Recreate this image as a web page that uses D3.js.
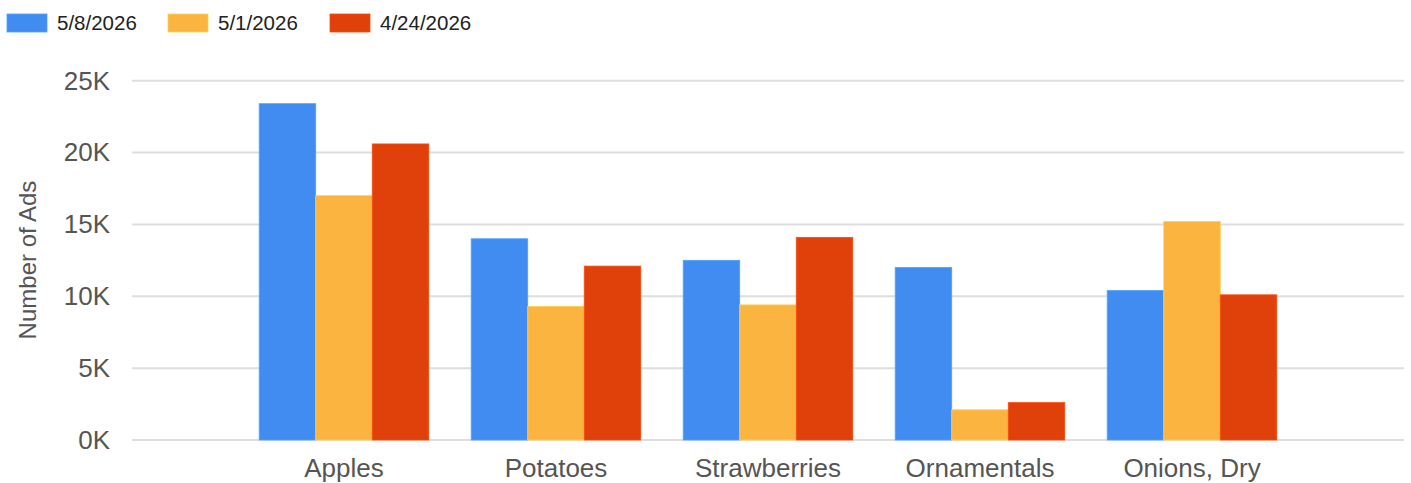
<!DOCTYPE html>
<html>
<head>
<meta charset="utf-8">
<script src="https://cdn.jsdelivr.net/npm/d3@7"></script>
<style>
  html, body { margin: 0; padding: 0; background: #fff; }
  svg { display: block; font-family: Arial, "Liberation Sans", sans-serif; }
</style>
</head>
<body>
<svg id="chart" width="1411" height="483"></svg>
<script>
const categories = ["Apples", "Potatoes", "Strawberries", "Ornamentals", "Onions, Dry"];
const seriesNames = ["5/8/2026", "5/1/2026", "4/24/2026"];
const seriesColors = ["#418cf0", "#fcb441", "#e0400a"];
const values_5_8 = [23400, 14000, 12500, 12000, 10400];
const values_5_1 = [17000, 9300, 9400, 2100, 15200];
const values_4_24 = [20600, 12100, 14100, 2600, 10100];
const yTicks = [0, 5000, 10000, 15000, 20000, 25000];
const yTickLabels = ["0K", "5K", "10K", "15K", "20K", "25K"];
const yTitle = "Number of Ads";

const seriesValues = [values_5_8, values_5_1, values_4_24];

const svg = d3.select("#chart");
const plotLeft = 132, plotRight = 1404, plotTop = 80.7, plotBottom = 440;

const x0 = d3.scaleBand().domain(categories).range([plotLeft, plotRight]).paddingInner(0.2).paddingOuter(0.6);
const x1 = d3.scaleBand().domain(seriesNames).range([0, x0.bandwidth()]).padding(0);
const y = d3.scaleLinear().domain([0, 25000]).range([plotBottom, plotTop]);

// gridlines
svg.append("g").selectAll("line").data(yTicks).join("line")
  .attr("x1", plotLeft).attr("x2", plotRight)
  .attr("y1", d => y(d)).attr("y2", d => y(d))
  .attr("stroke", "#dedede").attr("stroke-width", 2);

// y axis labels
const yAxis = d3.axisLeft(y).tickValues(yTicks).tickSize(0).tickPadding(0)
  .tickFormat((d, i) => yTickLabels[i]);
const yg = svg.append("g").attr("transform", `translate(110,0)`).call(yAxis);
yg.select(".domain").remove();
yg.selectAll("text").attr("font-size", 26).attr("fill", "#555").attr("font-family", "Arial, 'Liberation Sans', sans-serif");

// y title
svg.append("text")
  .attr("transform", `translate(36,260) rotate(-90)`)
  .attr("text-anchor", "middle")
  .attr("font-size", 24).attr("fill", "#555")
  .text(yTitle);

// bars
const groups = svg.append("g").selectAll("g").data(categories).join("g")
  .attr("transform", d => `translate(${x0(d)},0)`);
groups.selectAll("rect").data((c, ci) => seriesNames.map((s, si) => ({ s, si, v: seriesValues[si][ci] })))
  .join("rect")
  .attr("x", d => x1(d.s))
  .attr("y", d => y(d.v))
  .attr("width", x1.bandwidth())
  .attr("height", d => plotBottom - y(d.v))
  .attr("fill", d => seriesColors[d.si])
  .attr("stroke", d => d3.color(seriesColors[d.si]).brighter(0.4))
  .attr("stroke-width", 0.8);

// x axis labels
const xAxis = d3.axisBottom(x0).tickSize(0).tickPadding(0);
const xg = svg.append("g").attr("transform", `translate(0,${plotBottom})`).call(xAxis);
xg.select(".domain").remove();
xg.selectAll("text").attr("font-size", 26).attr("fill", "#555")
  .attr("dy", null).attr("y", 37)
  .attr("font-family", "Arial, 'Liberation Sans', sans-serif");

// legend
const legendX = [7, 168, 330];
const lg = svg.append("g").selectAll("g").data(seriesNames).join("g")
  .attr("transform", (d, i) => `translate(${legendX[i]},0)`);
lg.append("rect").attr("x", 0).attr("y", 14).attr("width", 40).attr("height", 18)
  .attr("fill", (d, i) => seriesColors[i])
  .attr("stroke", (d, i) => d3.color(seriesColors[i]).brighter(0.4)).attr("stroke-width", 0.8);
lg.append("text").attr("x", 50).attr("y", 30).attr("font-size", 20.5).attr("fill", "#222").text(d => d);
</script>
</body>
</html>
